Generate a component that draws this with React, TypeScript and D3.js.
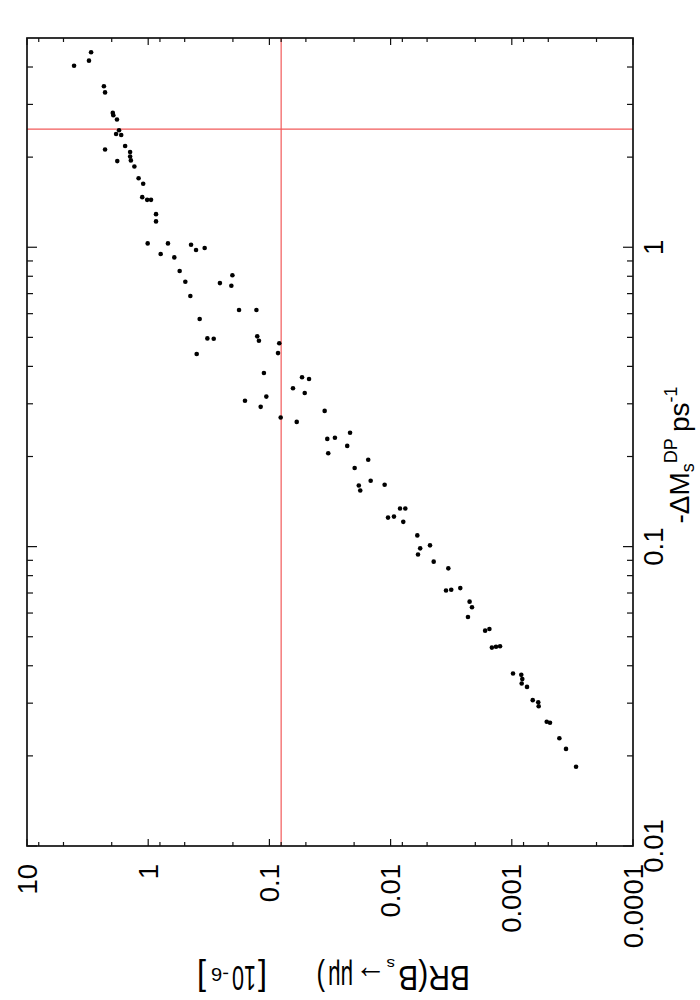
import React, { useMemo } from "react";
import * as d3 from "d3";

// BR(Bs -> mu mu) in units of 1e-6
const branchingRatio: number[] = [
  4.09, 3.08, 2.96, 2.32, 2.27, 1.96, 1.94, 1.81, 1.74, 1.84, 1.67, 2.27, 1.55, 1.41, 1.41,
  1.39, 1.80, 1.30, 1.20, 1.10, 1.12, 1.02, 0.948, 0.862, 0.862, 1.01, 0.687, 0.443, 0.789,
  0.403, 0.342, 0.609, 0.550, 0.494, 0.202, 0.256, 0.206, 0.449, 0.178, 0.128, 0.376, 0.325,
  0.288, 0.126, 0.122, 0.0829, 0.398, 0.0849, 0.111, 0.0538, 0.0471, 0.0639, 0.0511, 0.159,
  0.106, 0.118, 0.035, 0.0807, 0.0595, 0.0333, 0.0288, 0.0216, 0.0327, 0.0228, 0.0153, 0.0198,
  0.0146, 0.0183, 0.0178, 0.0112, 0.00836, 0.00756, 0.0105, 0.00938, 0.00786, 0.00602, 0.00473,
  0.0057, 0.00594, 0.00441, 0.00334, 0.00349, 0.00316, 0.00266, 0.00223, 0.00213, 0.0023,
  0.00166, 0.00153, 0.00146, 0.00135, 0.00125, 0.000977, 0.000835, 0.000819, 0.000829,
  0.000749, 0.000672, 0.000605, 0.0006, 0.000515, 0.000484, 0.000405, 0.000357, 0.000295,
];

// -Delta M_s^DP in ps^-1
const deltaMs: number[] = [
  4.04, 4.2, 4.48, 3.45, 3.29, 2.81, 2.76, 2.67, 2.46, 2.39, 2.37, 2.12, 2.18, 2.08, 2.01,
  1.95, 1.94, 1.86, 1.7, 1.63, 1.47, 1.44, 1.44, 1.29, 1.22, 1.03, 1.03, 1.02, 0.949,
  0.979, 0.994, 0.925, 0.833, 0.767, 0.806, 0.759, 0.744, 0.687, 0.617, 0.617, 0.576, 0.496,
  0.495, 0.504, 0.487, 0.478, 0.44, 0.443, 0.38, 0.368, 0.363, 0.338, 0.326, 0.307,
  0.317, 0.293, 0.284, 0.27, 0.261, 0.229, 0.231, 0.24, 0.205, 0.217, 0.195, 0.183,
  0.166, 0.16, 0.154, 0.161, 0.134, 0.134, 0.125, 0.126, 0.121, 0.109, 0.101,
  0.0987, 0.0941, 0.0891, 0.0846, 0.0714, 0.0718, 0.0727, 0.0655, 0.0627, 0.0582,
  0.0524, 0.0531, 0.046, 0.0463, 0.0465, 0.0377, 0.0373, 0.0361, 0.0349,
  0.034, 0.0307, 0.0302, 0.0293, 0.026, 0.0258, 0.0229, 0.0211, 0.0184,
];

const brMajorTicks: number[] = [10, 1, 0.1, 0.01, 0.001, 0.0001];
const brTickLabels: string[] = ["10", "1", "0.1", "0.01", "0.001", "0.0001"];
const brMinorMantissas: number[] = [2, 5, 8];
const brMinorExponents: number[] = [-4, -3, -2, -1, 0];

const dmMajorTicks: number[] = [0.01, 0.1, 1];
const dmTickLabels: string[] = ["0.01", "0.1", "1"];
const dmMinorTicks: number[] = [
  0.02, 0.03, 0.04, 0.05, 0.06, 0.07, 0.08, 0.09,
  0.2, 0.3, 0.4, 0.5, 0.6, 0.7, 0.8, 0.9,
  2, 3, 4,
];

const brReference = 0.08;
const dmReference = 2.48;

// pieces of the BR axis title: text, offset along reading direction, width, size, baseline shift
const brTitlePieces: [string, number, number, number, number][] = [
  ["BR(B", 0, 72, 35, 0],
  ["s", 75, 8.5, 15, 6.5],
  ["→", 84, 31, 35, 0],
  ["μμ", 117, 25, 35, 0],
  [")", 145, 8.5, 35, 0],
  ["[", 203, 9, 35, 0],
  ["10", 214, 24, 35, 0],
  ["-6", 241, 18, 19, -2],
  ["]", 264, 9, 35, 0],
];

const W = 700;
const H = 1000;
const L = 27, R = 633, T = 38, B = 846;
const FAMILY = "Liberation Sans";
const FONT = "'Liberation Sans', Arial, Helvetica, sans-serif";
const TICK_FONT = 27.5;

export default function App() {
  const x = d3.scaleLog().domain([10, 0.0001]).range([L, R]);
  const y = d3.scaleLog().domain([0.01, 5]).range([B, T]);

  const brMinor: number[] = [];
  brMinorExponents.forEach((e) =>
    brMinorMantissas.forEach((m) => brMinor.push(m * Math.pow(10, e)))
  );

  const squeeze = useMemo(() => {
    const ctx = document.createElement("canvas").getContext("2d");
    return brTitlePieces.map(([t, , w, s]) => {
      if (!ctx) return 1;
      ctx.font = `${s}px "${FAMILY}"`;
      const nat = ctx.measureText(t).width || w;
      return w / nat;
    });
  }, []);

  const pts = branchingRatio.map((b, i) => [b, deltaMs[i]] as [number, number]);
  const red = "#f25a5a";
  const titleMid = 455;

  return (
    <svg
      width={W}
      height={H}
      style={{ position: "absolute", left: 0, top: 0, background: "#fff" }}
      fontFamily={FONT}
    >
      <rect x={0} y={0} width={W} height={H} fill="#fff" />
      {/* reference lines */}
      <line x1={x(brReference)} x2={x(brReference)} y1={T} y2={B} stroke={red} strokeWidth={1.2} />
      <line x1={L} x2={R} y1={y(dmReference)} y2={y(dmReference)} stroke={red} strokeWidth={1.2} />

      {/* ticks on BR axis (top & bottom) */}
      {brMajorTicks.map((v, i) => (
        <g key={"bm" + i} stroke="#111" strokeWidth={1.2}>
          <line x1={x(v)} x2={x(v)} y1={T} y2={T + 7} />
          <line x1={x(v)} x2={x(v)} y1={B} y2={B - 7} />
        </g>
      ))}
      {brMinor.map((v, i) => (
        <g key={"bn" + i} stroke="#111" strokeWidth={1.2}>
          <line x1={x(v)} x2={x(v)} y1={T} y2={T + 4} />
          <line x1={x(v)} x2={x(v)} y1={B} y2={B - 4} />
        </g>
      ))}
      {/* ticks on DeltaMs axis (left & right) */}
      {dmMajorTicks.map((v, i) => (
        <g key={"dm" + i} stroke="#111" strokeWidth={1.2}>
          <line x1={L} x2={L + 10} y1={y(v)} y2={y(v)} />
          <line x1={R} x2={R - 10} y1={y(v)} y2={y(v)} />
        </g>
      ))}
      {dmMinorTicks.map((v, i) => (
        <g key={"dn" + i} stroke="#111" strokeWidth={1.2}>
          <line x1={L} x2={L + 6} y1={y(v)} y2={y(v)} />
          <line x1={R} x2={R - 6} y1={y(v)} y2={y(v)} />
        </g>
      ))}

      {/* frame */}
      <rect x={L} y={T} width={R - L} height={B - T} fill="none" stroke="#111" strokeWidth={1.7} />

      {/* points */}
      {pts.map(([b, m], i) => (
        <circle key={"p" + i} cx={x(b)} cy={y(m)} r={2.3} fill="#000" />
      ))}

      {/* BR tick labels */}
      {brMajorTicks.map((v, i) => (
        <text
          key={"bl" + i}
          transform={`translate(${x(v)},864) rotate(-90)`}
          textAnchor="end"
          dy="0.35em"
          fontSize={TICK_FONT}
          fill="#000"
        >
          {brTickLabels[i]}
        </text>
      ))}
      {/* DeltaMs tick labels */}
      {dmMajorTicks.map((v, i) => (
        <text
          key={"dl" + i}
          transform={`translate(663,${y(v)}) rotate(-90)`}
          textAnchor="middle"
          fontSize={TICK_FONT}
          fill="#000"
        >
          {dmTickLabels[i]}
        </text>
      ))}

      {/* x title (DeltaMs), rotated */}
      <text
        transform={`translate(689,${titleMid}) rotate(-90)`}
        textAnchor="middle"
        fontSize={28}
        fill="#000"
      >
        <tspan>-ΔM</tspan>
        <tspan fontSize={18} dy={5}>s</tspan>
        <tspan fontSize={18} dy={-17}>DP</tspan>
        <tspan dy={12} dx={6}>ps</tspan>
        <tspan fontSize={18} dy={-12}>-1</tspan>
      </text>

      {/* y title (BR), upside down */}
      {brTitlePieces.map(([t, off, , s, shift], i) => (
        <text
          key={"bt" + i}
          transform={`translate(${470 - off},966) rotate(180) scale(${squeeze[i]},1)`}
          y={shift}
          fontSize={s}
          fill="#000"
        >
          {t}
        </text>
      ))}
    </svg>
  );
}
